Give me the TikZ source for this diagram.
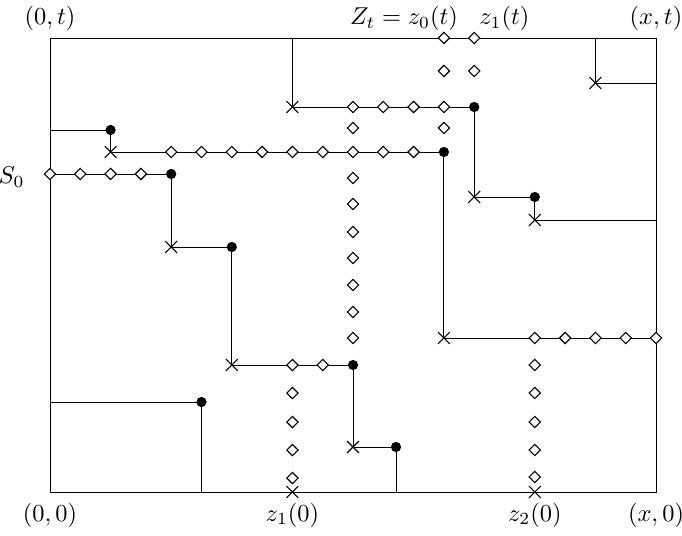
\documentclass[tikz,border=0pt]{standalone}
\usepackage{amssymb,amsmath}
\usetikzlibrary{shapes.geometric,shapes.misc,backgrounds}

\begin{document}
\begin{tikzpicture}[x=12.423pt,y=0.41pt,line width=0.55pt]
	
	% Styles for the marks on the paths
	\tikzset{
		dotmark/.style={circle,fill,inner sep=0pt,minimum size=4.2pt},
		crossmark/.style={cross out,draw,inner sep=0pt,minimum size=4.4pt,line width=0.45pt},
		diamark/.style={diamond,draw,fill=white,inner sep=0pt,minimum size=4.8pt,line width=0.45pt}
	}
	
	\useasboundingbox (-1.65,-43) rectangle (20.858,492);
	
	%========================================
	% Frame and labels
	%========================================
	\coordinate (BL) at (0,0);
	\coordinate (TR) at (20,454);
	\node[anchor=base] (L0t) at (0,467) {$(0,t)$};
	\node[anchor=base] (Lxt) at (20,467) {$(x,t)$};
	\node[anchor=base] (L00) at (0,-29) {$(0,0)$};
	\node[anchor=base] (Lx0) at (20,-29) {$(x,0)$};
	\node[anchor=base east] (LZ) at (13.75,467) {$Z_t = z_0(t)$};
	\node[anchor=base west] (Lz1) at (13.88,467) {$z_1(t)$};
	\node[anchor=base] (Lz10) at (8,-29) {$z_1(0)$};
	\node[anchor=base] (Lz20) at (16,-29) {$z_2(0)$};
	\node[anchor=base east] (LS) at (-0.55,308) {$S_0$};
	
	%========================================
	% Marks: dots and crosses
	%========================================
	% path entering at the top left
	\coordinate (A1) at (0,362);
	\node[dotmark] (D1) at (2,362) {};
	\node[crossmark] (X1) at (2,340) {};
	\node[dotmark] (D2) at (13,340) {};
	\node[crossmark] (X2) at (13,154) {};
	\coordinate (A2) at (20,154);
	
	% path starting at S_0
	\coordinate (A3) at (0,318);
	\node[dotmark] (D3) at (4,318) {};
	\node[crossmark] (X3) at (4,245) {};
	\node[dotmark] (D4) at (6,245) {};
	\node[crossmark] (X4) at (6,127) {};
	\node[dotmark] (D5) at (10,127) {};
	\node[crossmark] (X5) at (10,45) {};
	\node[dotmark] (D6) at (11.42,45) {};
	\coordinate (A4) at (11.42,0);
	
	% path at the bottom left
	\coordinate (A5) at (0,90);
	\node[dotmark] (D7) at (5,90) {};
	\coordinate (A6) at (5,0);
	
	% path coming down from the top
	\coordinate (A7) at (8,454);
	\node[crossmark] (X6) at (8,385) {};
	\node[dotmark] (D8) at (14,385) {};
	\node[crossmark] (X7) at (14,295) {};
	\node[dotmark] (D9) at (16,295) {};
	\node[crossmark] (X8) at (16,272) {};
	\coordinate (A8) at (20,272);
	
	% path at the top right
	\coordinate (A9) at (18,454);
	\node[crossmark] (X9) at (18,409) {};
	\coordinate (A10) at (20,409);
	
	% crosses on the bottom edge
	\node[crossmark] (X10) at (8,0) {};
	\node[crossmark] (X11) at (16,0) {};
	
	%========================================
	% Diamonds
	%========================================
	\foreach \k/\h in {13/454,14/454,13/421,14/421,
		10/385,11/385,12/385,13/385,10/364,13/364,
		4/340,5/340,6/340,7/340,8/340,9/340,10/340,11/340,12/340,
		0/318,1/318,2/318,3/318,
		10/314,10/288,10/260,10/234,10/207,10/180,10/154,
		8/127,9/127,8/99,8/70,8/42,8/14,
		16/154,17/154,18/154,19/154,20/154,
		16/127,16/99,16/70,16/42,16/15}
		\node[diamark] (Q\k-\h) at (\k,\h) {};
	
	%========================================
	% Paths
	%========================================
	\begin{scope}[on background layer]
		\draw (BL) rectangle (TR);
		\draw (A1) -- (D1.center) -- (X1.center) -- (D2.center) -- (X2.center) -- (A2);
		\draw (A3) -- (D3.center) -- (X3.center) -- (D4.center) -- (X4.center)
		-- (D5.center) -- (X5.center) -- (D6.center) -- (A4);
		\draw (A5) -- (D7.center) -- (A6);
		\draw (A7) -- (X6.center) -- (D8.center) -- (X7.center) -- (D9.center)
		-- (X8.center) -- (A8);
		\draw (A9) -- (X9.center) -- (A10);
	\end{scope}
	
\end{tikzpicture}
\end{document}
